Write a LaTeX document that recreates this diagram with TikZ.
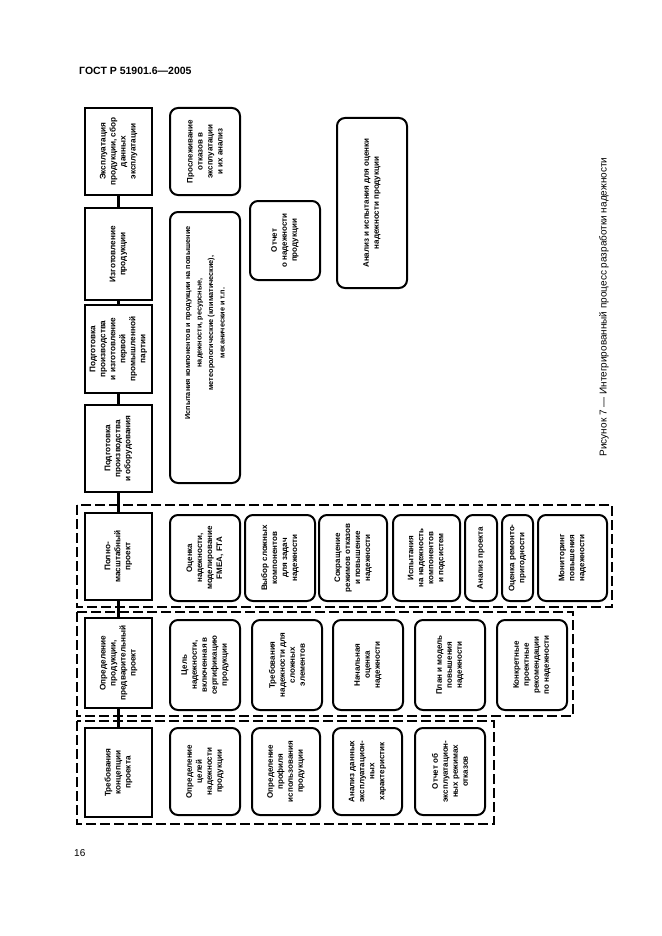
\documentclass[tikz,border=0pt]{standalone}
\usepackage{fontspec}
\setmainfont{Liberation Sans}
\begin{document}
\begin{tikzpicture}[x=1pt,y=-1pt,
  mainbox/.style={draw, line width=2.6pt, rotate=90, align=center, font=\bfseries\fontsize{8.2}{10}\selectfont, inner sep=2pt, minimum height=67pt},
  rbox/.style={draw, line width=2pt, rounded corners=8pt, rotate=90, align=center, font=\bfseries\fontsize{8}{10}\selectfont, inner sep=2pt},
  grp/.style={draw, line width=2pt, dash pattern=on 10pt off 4pt},
  conn/.style={line width=2.2pt},
  txt/.style={rotate=90, align=center, font=\bfseries\fontsize{7.3}{11.5}\selectfont, inner sep=0pt}]
\useasboundingbox (0,0) rectangle (661,936);

% header, page number, caption
\node[anchor=west, font=\bfseries\fontsize{10.5}{12}\selectfont, inner sep=0pt] (hdr) at (79,71) {ГОСТ Р 51901.6—2005};
\node[anchor=west, font=\fontsize{10}{12}\selectfont, inner sep=0pt] (pg) at (74,853) {16};
\node[rotate=90, font=\fontsize{10}{12}\selectfont, inner sep=0pt] (cap) at (604,307) {Рисунок 7 — Интегрированный процесс разработки надежности};

% dashed groups
\draw[grp] (77,505) rectangle (612,607);
\draw[grp] (77,612) rectangle (573,716);
\draw[grp] (77,721) rectangle (494,824);

% main column
\node[mainbox, minimum width=87pt] (m1) at (118.5,151.5) {Эксплуатация\\продукции, сбор\\данных\\эксплуатации};
\node[mainbox, minimum width=92pt] (m2) at (118.5,254) {Изготовление\\продукции};
\node[mainbox, minimum width=88pt] (m3) at (118.5,349) {Подготовка\\производства\\и изготовление\\первой\\промышленной\\партии};
\node[mainbox, minimum width=87pt] (m4) at (118.5,448.5) {Подготовка\\производства\\и оборудования};
\node[mainbox, minimum width=87pt] (m5) at (118.5,556.5) {Полно-\\масштабный\\проект};
\node[mainbox, minimum width=90pt] (m6) at (118.5,663) {Определение\\продукции,\\предварительный\\проект};
\node[mainbox, minimum width=89pt] (m7) at (118.5,772.5) {Требования\\концепции\\проекта};

\draw[conn] (m1) -- (m2);
\draw[conn] (m2) -- (m3);
\draw[conn] (m3) -- (m4);
\draw[conn] (m4) -- (m5);
\draw[conn] (m5) -- (m6);
\draw[conn] (m6) -- (m7);

% top area
\node[rbox, minimum width=87pt, minimum height=70pt] (p) at (205,151.5) {Прослеживание\\отказов в\\эксплуатации\\и их анализ};
\node[rbox, minimum width=271pt, minimum height=70pt] (t) at (205,347.5) {};
\node[txt] (tt) at (205,323) {Испытания компонентов и продукции на повышение\\надежности, ресурсные,\\метеорологические (климатические),\\механические и т.п.};
\node[rbox, minimum width=79pt, minimum height=70pt] (r) at (285,240.5) {Отчет\\о надежности\\продукции};
\node[rbox, minimum width=170pt, minimum height=70pt] (n) at (372,203) {Анализ и испытания для оценки\\надежности продукции};

% group A (full-scale design)
\node[rbox, minimum width=86pt, minimum height=70pt] (a1) at (205,558) {Оценка\\надежности,\\моделирование\\FMEA, FTA};
\node[rbox, minimum width=86pt, minimum height=70pt] (a2) at (280,558) {Выбор сложных\\компонентов\\для задач\\надежности};
\node[rbox, minimum width=86pt, minimum height=68pt] (a3) at (353,558) {Сокращение\\режимов отказов\\и повышение\\надежности};
\node[rbox, minimum width=86pt, minimum height=67pt] (a4) at (426.5,558) {Испытания\\на надежность\\компонентов\\и подсистем};
\node[rbox, minimum width=86pt, minimum height=32pt] (a5) at (481,558) {Анализ проекта};
\node[rbox, minimum width=86pt, minimum height=31pt] (a6) at (517.5,558) {Оценка ремонто-\\пригодности};
\node[rbox, minimum width=86pt, minimum height=69pt] (a7) at (572.5,558) {Мониторинг\\повышения\\надежности};

% group B (product definition)
\node[rbox, minimum width=90pt, minimum height=70pt] (b1) at (205,665) {Цель\\надежности,\\включенная в\\сертификацию\\продукции};
\node[rbox, minimum width=90pt, minimum height=70pt] (b2) at (287,665) {Требования\\надежности для\\сложных\\элементов};
\node[rbox, minimum width=90pt, minimum height=70pt] (b3) at (368,665) {Начальная\\оценка\\надежности};
\node[rbox, minimum width=90pt, minimum height=70pt] (b4) at (450,665) {План и модель\\повышения\\надежности};
\node[rbox, minimum width=90pt, minimum height=70pt] (b5) at (532,665) {Конкретные\\проектные\\рекомендации\\по надежности};

% group C (concept requirements)
\node[rbox, minimum width=87pt, minimum height=70pt] (c1) at (205,771.5) {Определение\\целей\\надежности\\продукции};
\node[rbox, minimum width=87pt, minimum height=68pt] (c2) at (286,771.5) {Определение\\профиля\\использования\\продукции};
\node[rbox, minimum width=87pt, minimum height=69pt] (c3) at (367.5,771.5) {Анализ данных\\эксплуатацион-\\ных\\характеристик};
\node[rbox, minimum width=87pt, minimum height=70pt] (c4) at (450,771.5) {Отчет об\\эксплуатацион-\\ных режимах\\отказов};
\end{tikzpicture}
\end{document}
